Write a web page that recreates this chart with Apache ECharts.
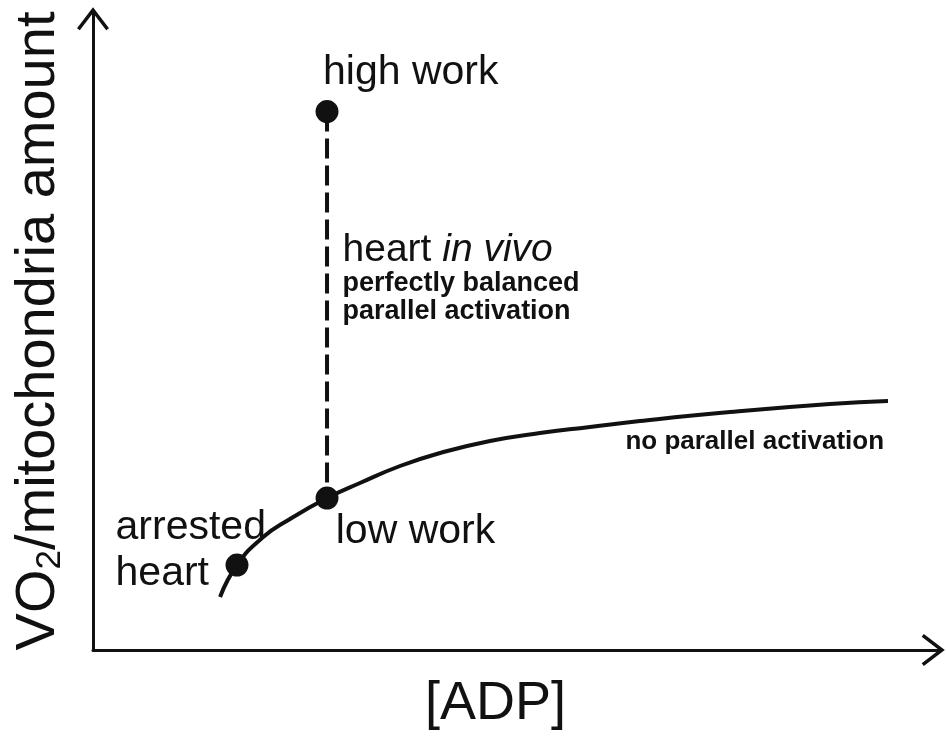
<!DOCTYPE html>
<html>
<head>
<meta charset="utf-8">
<script src="https://cdn.jsdelivr.net/npm/echarts@6/dist/echarts.min.js"></script>
<style>
html,body{margin:0;padding:0;background:#fff;}
#chart{width:946px;height:736px;}
</style>
</head>
<body>
<div id="chart"></div>
<script>
// Curve: response without parallel activation ([ADP] vs VO2), axis units 0-100
var curveX = [15.0, 17.0, 19.95, 23.26, 27.63, 31.52, 36.25, 40.97, 46.87, 52.77, 58.68, 64.58, 75.21, 87.01, 93.86];
var curveY = [8.31, 13.32, 17.55, 20.53, 23.82, 26.18, 28.84, 30.88, 32.76, 34.01, 34.95, 35.89, 37.30, 38.56, 39.03];
// Dots: arrested heart, low work, high work
var dotX = [17.0, 27.63, 27.63];
var dotY = [13.32, 23.82, 84.4];
// Dashed vertical line (heart in vivo)
var dashX = [27.63, 27.63];
var dashY = [84.4, 23.82];
// Annotation texts and anchors (data units)
var noteText = ['high work', 'low work', 'arrested\nheart', '{n|heart }{i|in vivo}', 'perfectly balanced', 'parallel activation', 'no parallel activation'];
var noteX = [27.1, 28.6, 2.6, 29.4, 29.4, 29.4, 62.8];
var noteY = [90.5, 18.6, 15.5, 62.7, 57.4, 53.1, 32.6];
var noteKind = ['big', 'big', 'big', 'mixed', 'bold', 'bold', 'bold2'];

var ink = '#111';
var font = 'Liberation Sans, Arial, sans-serif';
var chev = 'path://M0,21 L16,0 L32,21 L29.2,23.1 L16,5.8 L2.8,23.1 Z';

function pairs(xs, ys) { return xs.map(function (x, i) { return [x, ys[i]]; }); }

var styles = {
  big: {fontSize: 41, fontFamily: font, color: ink, lineHeight: 46},
  mixed: {fontSize: 39, fontFamily: font, color: ink,
    rich: {n: {fontSize: 39, color: ink, fontFamily: font},
           i: {fontSize: 39, color: ink, fontStyle: 'italic', fontFamily: font}}},
  bold: {fontSize: 27, fontWeight: 'bold', fontFamily: font, color: ink},
  bold2: {fontSize: 26, fontWeight: 'bold', fontFamily: font, color: ink}
};

var notes = noteText.map(function (t, i) {
  var s = styles[noteKind[i]];
  var lab = Object.assign({show: true, position: 'right', distance: 0, align: 'left', verticalAlign: 'middle', formatter: t}, s);
  return {value: [noteX[i], noteY[i]], label: lab};
});

var chart = echarts.init(document.getElementById('chart'), null, {renderer: 'canvas'});
chart.setOption({
  animation: false,
  backgroundColor: '#fff',
  grid: {left: 93, right: 6, top: 12, bottom: 86, containLabel: false, outerBoundsMode: 'none'},
  xAxis: {
    type: 'value', min: 0, max: 100,
    name: '[ADP]', nameLocation: 'middle', nameGap: 27,
    nameTextStyle: {fontSize: 54, color: ink, fontFamily: font, padding: [0, 42, 0, 0], verticalAlign: 'top'},
    axisLine: {show: true, symbol: ['none', chev], symbolSize: [32, 23.1], symbolOffset: [0, -6.75], lineStyle: {color: ink, width: 3}},
    axisTick: {show: false}, axisLabel: {show: false}, splitLine: {show: false}
  },
  yAxis: {
    type: 'value', min: 0, max: 100,
    name: '{m|VO}{s|2}{m|/mitochondria amount}', nameLocation: 'middle', nameGap: 25, nameRotate: 90,
    nameTextStyle: {
      color: ink, fontSize: 56, fontFamily: font,
      rich: {
        m: {fontSize: 56, color: ink, lineHeight: 58, fontFamily: font},
        s: {fontSize: 35, color: ink, lineHeight: 28, verticalAlign: 'bottom', fontFamily: font}
      }
    },
    axisLine: {show: true, symbol: ['none', chev], symbolSize: [32, 23.1], symbolOffset: [0, -6.75], lineStyle: {color: ink, width: 3}},
    axisTick: {show: false}, axisLabel: {show: false}, splitLine: {show: false}
  },
  series: [
    {type: 'line', data: pairs(curveX, curveY), smooth: 0.5, showSymbol: false, lineStyle: {color: ink, width: 4}, z: 3},
    {type: 'line', data: pairs(dashX, dashY), showSymbol: false, lineStyle: {color: ink, width: 4, type: [20, 7], cap: 'butt'}, z: 3},
    {type: 'scatter', data: pairs(dotX, dotY), symbolSize: 23, itemStyle: {color: ink, opacity: 1}, z: 4},
    {type: 'scatter', data: notes, symbolSize: 1, itemStyle: {color: 'rgba(0,0,0,0)', opacity: 1}, z: 5}
  ]
});
</script>
</body>
</html>
